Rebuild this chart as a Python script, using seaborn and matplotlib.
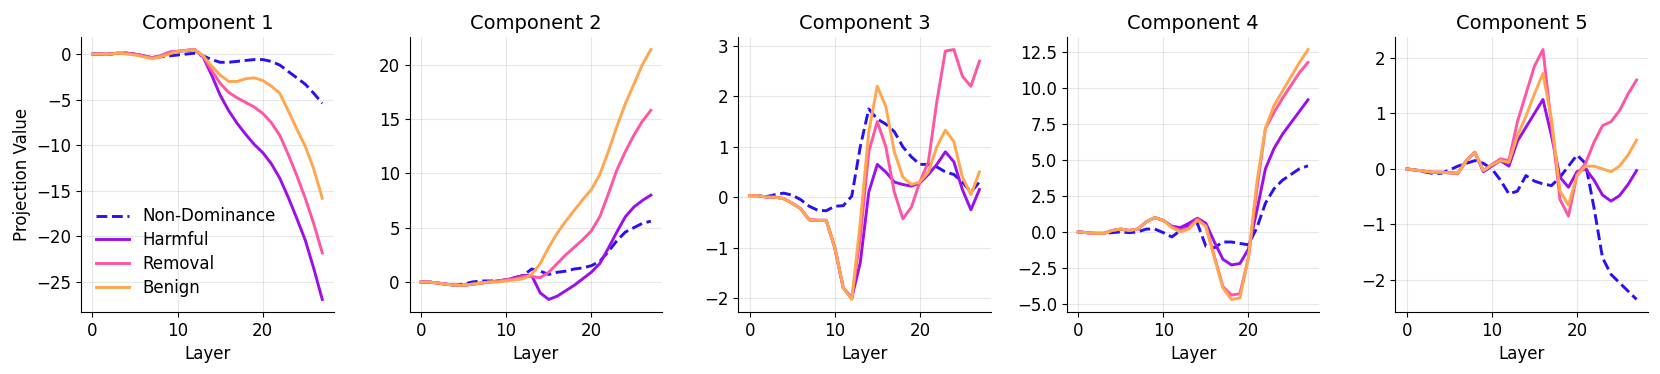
import numpy as np
import pandas as pd
import matplotlib
matplotlib.use("Agg")
import matplotlib.pyplot as plt
import seaborn as sns

layers = list(range(28))
series_names = ["Non-Dominance", "Harmful", "Removal", "Benign"]
series_colors = ["#2a10f2", "#9b10ea", "#ff55a5", "#ffa64f"]
titles = ["Component 1", "Component 2", "Component 3", "Component 4", "Component 5"]

# Component 1
c1_nondom = [0, 0, 0, 0.1, 0.1, 0, -0.2, -0.4, -0.3, -0.2, -0.1, 0, 0.1, -0.2, -0.6, -0.9, -0.9, -0.8,
             -0.7, -0.6, -0.6, -0.8, -1.2, -1.9, -2.6, -3.3, -4.3, -5.4]
c1_harmful = [0, 0, 0, 0.1, 0.1, 0, -0.2, -0.4, -0.2, 0.2, 0.3, 0.4, 0.5, -0.3, -2.3, -4.5, -6.2, -7.6,
              -8.8, -9.9, -10.8, -12.0, -13.6, -15.7, -18.0, -20.4, -23.5, -26.9]
c1_removal = [0, 0, 0, 0.1, 0.1, 0, -0.2, -0.4, -0.2, 0.2, 0.3, 0.4, 0.5, -0.2, -1.8, -3.2, -4.2, -4.8,
              -5.3, -5.8, -6.5, -7.5, -8.9, -11.0, -13.3, -15.8, -18.6, -21.8]
c1_benign = [0, 0, 0, 0.1, 0, -0.1, -0.3, -0.5, -0.3, 0, 0.3, 0.4, 0.5, -0.2, -1.3, -2.3, -3.0, -3.0,
             -2.7, -2.6, -2.9, -3.5, -4.3, -6.2, -8.2, -10.1, -12.6, -15.8]

# Component 2
c2_nondom = [0, 0, -0.1, -0.2, -0.3, -0.2, 0, 0.1, 0.1, 0.1, 0.2, 0.4, 0.6, 1.2, 1.0, 0.7, 0.9, 1.0,
             1.2, 1.3, 1.5, 1.9, 2.8, 3.8, 4.6, 5.0, 5.4, 5.6]
c2_harmful = [0, 0, -0.1, -0.2, -0.3, -0.3, -0.2, -0.1, 0, 0.1, 0.2, 0.4, 0.6, 0.6, -1.0, -1.6, -1.3, -0.8,
              -0.3, 0.3, 0.9, 1.7, 3.1, 4.6, 6.0, 6.9, 7.5, 8.0]
c2_removal = [0, 0, -0.1, -0.2, -0.3, -0.3, -0.2, -0.1, 0, 0.1, 0.2, 0.3, 0.5, 0.5, 0.4, 0.9, 1.7, 2.5,
              3.2, 3.9, 4.7, 6.0, 8.1, 10.3, 12.0, 13.5, 14.8, 15.8]
c2_benign = [0, 0, -0.1, -0.2, -0.3, -0.3, -0.2, -0.1, 0, 0, 0.1, 0.2, 0.3, 0.7, 1.7, 3.2, 4.5, 5.6,
             6.6, 7.6, 8.5, 9.9, 12.0, 14.3, 16.4, 18.2, 20.0, 21.4]

# Component 3
c3_nondom = [0.03, 0.03, 0.01, 0.05, 0.08, 0.04, -0.05, -0.18, -0.26, -0.27, -0.18, -0.17, 0.02, 1.0,
             1.75, 1.55, 1.45, 1.3, 1.0, 0.8, 0.65, 0.65, 0.6, 0.5, 0.45, 0.3, 0.1, 0.3]
c3_harmful = [0.03, 0.03, 0, 0, -0.03, -0.12, -0.23, -0.45, -0.46, -0.46, -1.0, -1.8, -2.0, -1.3,
              0.1, 0.65, 0.5, 0.3, 0.25, 0.22, 0.28, 0.45, 0.65, 0.9, 0.7, 0.15, -0.25, 0.15]
c3_removal = [0.03, 0.03, 0, 0, -0.03, -0.12, -0.23, -0.45, -0.46, -0.46, -1.0, -1.8, -2.02, -0.8,
              0.9, 1.5, 1.0, 0.1, -0.43, -0.2, 0.3, 0.7, 1.9, 2.9, 2.93, 2.4, 2.2, 2.7]
c3_benign = [0.03, 0.03, 0, 0, -0.03, -0.12, -0.23, -0.45, -0.46, -0.46, -1.0, -1.8, -2.03, -0.5,
             1.3, 2.2, 1.8, 0.9, 0.4, 0.25, 0.3, 0.5, 1.0, 1.33, 1.1, 0.4, 0.05, 0.5]

# Component 4
c4_nondom = [0, -0.05, -0.1, -0.1, -0.05, 0, -0.05, 0, 0.2, 0.2, -0.05, -0.35, 0.1, 0.4, 0.6, -1.0,
             -1.1, -0.7, -0.7, -0.8, -0.9, 0.3, 2.0, 3.0, 3.6, 4.0, 4.4, 4.6]
c4_harmful = [0, -0.05, -0.1, -0.1, 0.1, 0.2, 0.1, 0.2, 0.7, 1.0, 0.8, 0.4, 0.3, 0.6, 0.95, 0.6,
              -0.7, -1.9, -2.3, -2.2, -1.2, 1.5, 4.4, 5.8, 6.8, 7.6, 8.4, 9.2]
c4_removal = [0, -0.05, -0.1, -0.1, 0.1, 0.2, 0.1, 0.2, 0.7, 1.0, 0.8, 0.35, 0.1, 0.3, 0.9, 0.4,
              -1.7, -3.8, -4.4, -4.3, -1.8, 3.0, 7.2, 8.3, 9.3, 10.2, 11.1, 11.8]
c4_benign = [0, -0.05, -0.1, -0.1, 0.1, 0.2, 0.1, 0.2, 0.7, 1.0, 0.8, 0.3, 0.0, 0.2, 0.8, 0.4,
             -1.8, -3.9, -4.7, -4.6, -1.8, 3.5, 7.2, 8.8, 9.8, 10.8, 11.8, 12.7]

# Component 5
c5_nondom = [0, -0.02, -0.05, -0.08, -0.08, -0.02, 0.05, 0.1, 0.15, 0.1, 0, -0.2, -0.45, -0.4, -0.12,
             -0.22, -0.27, -0.3, -0.15, 0.05, 0.25, 0.1, -0.7, -1.6, -1.9, -2.05, -2.2, -2.35]
c5_harmful = [0, -0.02, -0.04, -0.06, -0.06, -0.07, -0.08, 0.15, 0.3, -0.05, 0.05, 0.15, 0.05, 0.5,
              0.75, 1.0, 1.25, 0.6, -0.15, -0.33, -0.05, 0.0, -0.2, -0.47, -0.58, -0.48, -0.28, -0.03]
c5_removal = [0, -0.02, -0.04, -0.06, -0.06, -0.07, -0.08, 0.15, 0.3, -0.03, 0.08, 0.18, 0.15, 0.85,
              1.35, 1.85, 2.15, 0.8, -0.55, -0.85, -0.1, 0.1, 0.48, 0.78, 0.85, 1.05, 1.35, 1.6]
c5_benign = [0, -0.02, -0.04, -0.06, -0.06, -0.07, -0.08, 0.15, 0.3, -0.03, 0.07, 0.15, 0.12, 0.6,
             0.95, 1.35, 1.72, 0.9, -0.4, -0.65, -0.12, 0.05, 0.05, 0.0, -0.05, 0.05, 0.25, 0.52]

components = [
    [c1_nondom, c1_harmful, c1_removal, c1_benign],
    [c2_nondom, c2_harmful, c2_removal, c2_benign],
    [c3_nondom, c3_harmful, c3_removal, c3_benign],
    [c4_nondom, c4_harmful, c4_removal, c4_benign],
    [c5_nondom, c5_harmful, c5_removal, c5_benign],
]

plt.rcParams["font.family"] = ["DejaVu Sans"]

fig, axes = plt.subplots(1, 5, figsize=(16.6, 3.74), dpi=100)
fig.subplots_adjust(left=0.0488, right=0.9928, top=0.901, bottom=0.166, wspace=0.30)

palette = dict(zip(series_names, series_colors))
dashes = {"Non-Dominance": (3.7, 1.6), "Harmful": "", "Removal": "", "Benign": ""}

for i, (ax, comp) in enumerate(zip(axes, components)):
    rows = []
    for name, vals in zip(series_names, comp):
        for l, v in zip(layers, vals):
            rows.append({"Layer": l, "Value": v, "Series": name})
    df = pd.DataFrame(rows)
    sns.lineplot(data=df, x="Layer", y="Value", hue="Series", style="Series",
                 palette=palette, dashes=dashes, hue_order=series_names,
                 style_order=series_names, linewidth=2.1, ax=ax, legend=(i == 0))
    ax.set_title(titles[i], fontsize=14)
    ax.set_xlabel("Layer", fontsize=12)
    ax.set_ylabel("Projection Value" if i == 0 else "", fontsize=12)
    ax.tick_params(labelsize=12)
    ax.set_xticks([0, 10, 20])
    ax.grid(True, alpha=0.3)
    sns.despine(ax=ax)
    if i == 0:
        ax.legend(loc="lower left", frameon=False, fontsize=12, handlelength=2.0,
                  labelspacing=0.35, borderaxespad=0.5)

fig.savefig("out.png", dpi=100)
